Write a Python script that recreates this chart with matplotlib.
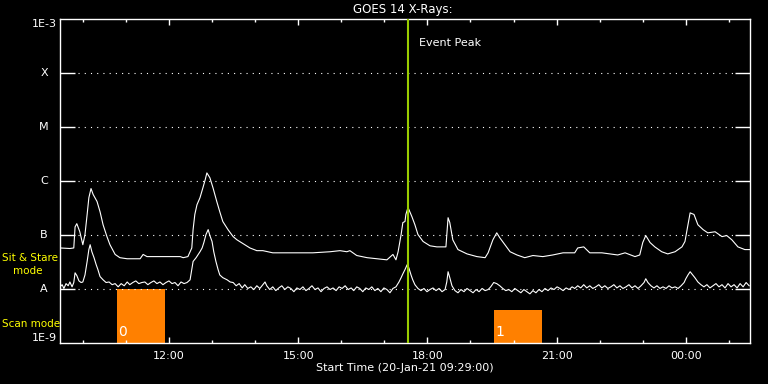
import matplotlib
matplotlib.use("Agg")
import matplotlib.pyplot as plt
import numpy as np
import matplotlib.transforms as mtransforms
from matplotlib.ticker import FixedLocator, MultipleLocator, FuncFormatter, NullLocator

plt.rcParams['font.family'] = ['DejaVu Sans']

# ---------------- data ----------------
# time: decimal hours from 00:00 on 20-Jan-21 (values above 24 fall on 21-Jan)
# flux: log10 of X-ray flux in W/m^2
long_t = [9.47, 9.70, 9.79, 9.82, 9.86, 9.93, 10.00, 10.05, 10.10, 10.14, 10.19, 10.24,
          10.33, 10.40, 10.47, 10.56, 10.63, 10.75, 10.86, 11.03, 11.21, 11.33, 11.40, 11.49,
          11.79, 12.02, 12.26, 12.33, 12.44, 12.53, 12.56, 12.60, 12.65, 12.72, 12.79, 12.84,
          12.88, 12.95, 13.02, 13.11, 13.18, 13.25, 13.37, 13.49, 13.58, 13.72, 13.88, 14.04,
          14.18, 14.41, 14.65, 14.97, 15.34, 15.74, 15.97, 16.13, 16.20, 16.36, 16.60, 16.83,
          17.06, 17.20, 17.27, 17.32, 17.39, 17.43, 17.48, 17.50, 17.55, 17.64, 17.71, 17.78,
          17.90, 18.06, 18.22, 18.43, 18.48, 18.52, 18.59, 18.71, 18.92, 19.15, 19.34, 19.41,
          19.52, 19.61, 19.68, 19.80, 19.92, 20.08, 20.26, 20.45, 20.68, 20.91, 21.15, 21.42,
          21.49, 21.63, 21.77, 22.05, 22.42, 22.59, 22.82, 22.93, 23.00, 23.07, 23.17, 23.28,
          23.44, 23.58, 23.75, 23.91, 23.98, 24.05, 24.10, 24.19, 24.28, 24.40, 24.51, 24.68,
          24.84, 24.95, 25.07, 25.21, 25.37, 25.49]
long_log = [-7.24, -7.25, -7.24, -6.85, -6.79, -6.94, -7.18, -6.99, -6.62, -6.31, -6.14, -6.25,
            -6.38, -6.57, -6.81, -7.03, -7.18, -7.36, -7.42, -7.44, -7.44, -7.44, -7.36, -7.40,
            -7.40, -7.40, -7.40, -7.42, -7.40, -7.24, -6.90, -6.62, -6.44, -6.31, -6.12, -5.98,
            -5.85, -5.94, -6.12, -6.38, -6.57, -6.75, -6.90, -7.03, -7.09, -7.16, -7.24, -7.29,
            -7.29, -7.33, -7.33, -7.33, -7.33, -7.31, -7.29, -7.31, -7.29, -7.38, -7.42, -7.44,
            -7.46, -7.36, -7.46, -7.31, -6.99, -6.77, -6.75, -6.62, -6.49, -6.66, -6.81, -6.99,
            -7.12, -7.20, -7.22, -7.22, -6.68, -6.77, -7.09, -7.27, -7.35, -7.40, -7.42, -7.33,
            -7.09, -6.96, -7.05, -7.18, -7.31, -7.37, -7.42, -7.38, -7.40, -7.37, -7.33, -7.33,
            -7.24, -7.22, -7.33, -7.33, -7.37, -7.33, -7.40, -7.37, -7.14, -7.01, -7.14, -7.22,
            -7.31, -7.35, -7.31, -7.22, -7.12, -6.81, -6.59, -6.62, -6.81, -6.90, -6.96, -6.94,
            -7.03, -7.01, -7.09, -7.22, -7.27, -7.27]

short_t = [9.47, 9.52, 9.56, 9.61, 9.66, 9.70, 9.75, 9.79, 9.82, 9.86, 9.91, 9.96,
           10.00, 10.05, 10.10, 10.14, 10.17, 10.21, 10.26, 10.31, 10.35, 10.40, 10.47, 10.54,
           10.61, 10.68, 10.75, 10.82, 10.89, 10.96, 11.03, 11.09, 11.16, 11.23, 11.30, 11.37,
           11.44, 11.51, 11.58, 11.65, 11.72, 11.79, 11.86, 11.93, 12.00, 12.07, 12.14, 12.21,
           12.28, 12.35, 12.42, 12.49, 12.56, 12.63, 12.67, 12.72, 12.77, 12.81, 12.86, 12.91,
           12.95, 13.00, 13.04, 13.09, 13.14, 13.18, 13.25, 13.35, 13.42, 13.49, 13.56, 13.63,
           13.70, 13.76, 13.83, 13.90, 13.97, 14.04, 14.11, 14.18, 14.23, 14.27, 14.34, 14.41,
           14.48, 14.55, 14.62, 14.69, 14.76, 14.83, 14.90, 14.97, 15.04, 15.11, 15.18, 15.25,
           15.32, 15.39, 15.46, 15.53, 15.60, 15.67, 15.74, 15.81, 15.88, 15.95, 16.02, 16.09,
           16.16, 16.23, 16.29, 16.36, 16.43, 16.50, 16.57, 16.64, 16.71, 16.78, 16.85, 16.92,
           16.99, 17.06, 17.13, 17.20, 17.27, 17.34, 17.39, 17.43, 17.48, 17.53, 17.57, 17.62,
           17.66, 17.71, 17.78, 17.85, 17.92, 17.99, 18.06, 18.13, 18.20, 18.27, 18.34, 18.41,
           18.45, 18.48, 18.52, 18.57, 18.64, 18.71, 18.78, 18.85, 18.92, 18.99, 19.06, 19.13,
           19.20, 19.27, 19.34, 19.41, 19.47, 19.54, 19.61, 19.68, 19.75, 19.82, 19.89, 19.96,
           20.03, 20.10, 20.17, 20.24, 20.31, 20.38, 20.45, 20.52, 20.59, 20.66, 20.73, 20.80,
           20.87, 20.94, 21.01, 21.08, 21.15, 21.22, 21.29, 21.36, 21.42, 21.49, 21.56, 21.63,
           21.70, 21.77, 21.84, 21.91, 21.98, 22.05, 22.12, 22.19, 22.26, 22.33, 22.40, 22.47,
           22.54, 22.61, 22.68, 22.75, 22.82, 22.89, 22.96, 23.03, 23.07, 23.12, 23.19, 23.26,
           23.33, 23.40, 23.47, 23.54, 23.61, 23.68, 23.75, 23.82, 23.89, 23.96, 24.00, 24.05,
           24.10, 24.14, 24.21, 24.28, 24.35, 24.42, 24.49, 24.56, 24.63, 24.70, 24.77, 24.84,
           24.91, 24.98, 25.05, 25.12, 25.19, 25.26, 25.33, 25.40, 25.47]
short_log = [-7.96, -7.92, -7.99, -7.90, -7.94, -7.87, -7.96, -7.88, -7.70, -7.75, -7.85, -7.88,
             -7.87, -7.74, -7.49, -7.27, -7.18, -7.31, -7.42, -7.55, -7.64, -7.77, -7.83, -7.88,
             -7.87, -7.92, -7.90, -7.96, -7.90, -7.94, -7.87, -7.92, -7.88, -7.85, -7.90, -7.88,
             -7.87, -7.92, -7.88, -7.85, -7.90, -7.87, -7.92, -7.88, -7.85, -7.90, -7.88, -7.94,
             -7.87, -7.90, -7.88, -7.83, -7.49, -7.42, -7.37, -7.31, -7.24, -7.14, -6.99, -6.90,
             -7.01, -7.12, -7.31, -7.49, -7.64, -7.74, -7.79, -7.83, -7.87, -7.88, -7.94, -7.90,
             -7.98, -7.92, -7.99, -7.96, -8.01, -7.94, -7.99, -7.92, -7.87, -7.94, -8.01, -7.96,
             -8.03, -7.98, -7.94, -8.01, -7.96, -7.99, -8.05, -7.98, -8.01, -7.96, -8.03, -7.99,
             -7.94, -8.01, -7.98, -8.05, -7.99, -7.96, -8.01, -7.98, -8.03, -7.96, -7.99, -7.94,
             -8.01, -7.98, -8.03, -7.96, -7.99, -8.05, -7.98, -8.01, -7.96, -8.03, -7.99, -8.05,
             -7.98, -8.01, -8.07, -7.99, -7.96, -7.87, -7.79, -7.72, -7.64, -7.55, -7.61, -7.74,
             -7.83, -7.92, -7.99, -8.03, -7.99, -8.05, -8.01, -7.98, -8.03, -7.99, -8.05, -8.01,
             -7.87, -7.68, -7.79, -7.94, -8.03, -8.07, -8.01, -8.05, -7.99, -8.03, -8.07, -8.01,
             -8.05, -7.99, -8.03, -8.01, -7.96, -7.88, -7.90, -7.94, -7.99, -8.03, -8.01, -8.05,
             -7.99, -8.03, -8.07, -8.01, -8.05, -8.09, -8.03, -8.07, -8.01, -8.05, -7.99, -8.03,
             -7.98, -8.01, -7.96, -7.99, -8.03, -7.98, -8.01, -7.96, -7.99, -7.94, -7.98, -7.92,
             -7.98, -7.94, -7.99, -7.96, -7.92, -7.98, -7.94, -7.99, -7.96, -7.92, -7.98, -7.94,
             -7.99, -7.96, -7.92, -7.98, -7.94, -7.99, -7.94, -7.88, -7.81, -7.88, -7.94, -7.98,
             -7.94, -7.99, -7.96, -7.99, -7.94, -7.98, -7.96, -7.99, -7.94, -7.88, -7.81, -7.74,
             -7.68, -7.72, -7.79, -7.87, -7.92, -7.96, -7.92, -7.98, -7.94, -7.90, -7.96, -7.92,
             -7.98, -7.90, -7.96, -7.92, -7.98, -7.90, -7.96, -7.88, -7.94]

time_range = [9.47, 25.49]
event_peak_t = 17.54
scan_start = [10.79, 19.54]
scan_end = [11.91, 20.65]
scan_top = [1.0e-8, 4.1e-9]
scan_label = ['0', '1']
class_level = [1e-8, 1e-7, 1e-6, 1e-5, 1e-4]
class_name = ['A', 'B', 'C', 'M', 'X']
major_hours = [12, 15, 18, 21, 24]

# ---------------- figure ----------------
W, H = 768, 384
fig = plt.figure(figsize=(W / 100, H / 100), dpi=100, facecolor='black')
ax = fig.add_axes([60 / W, 1 - 343 / H, 690 / W, 324 / H], facecolor='black')

ax.set_yscale('log')
ax.set_ylim(1e-9, 1e-3)
ax.set_xlim(*time_range)

# scan-mode blocks
for s, e, top, lab in zip(scan_start, scan_end, scan_top, scan_label):
    ax.fill_between([s, e], [1e-9, 1e-9], [top, top], color='#ff8000', lw=0, zorder=1)
    ax.text(s + 0.03, 1.6e-9, lab, color='white', fontsize=10, ha='left', va='center', zorder=4)

# grid lines at class levels
for lv in class_level:
    ax.axhline(lv, xmin=0.026, xmax=0.975, color='white', lw=0.8,
               linestyle=(0, (1, 4.6)), zorder=2)

# curves
ax.plot(long_t, 10 ** np.array(long_log), color='white', lw=0.8, zorder=3)
ax.plot(short_t, 10 ** np.array(short_log), color='white', lw=0.8, zorder=3)

# event peak
ax.axvline(event_peak_t, color='#99cc00', lw=1.5, zorder=5)
ax.text(event_peak_t + 0.26, 0.926, 'Event Peak', color='white', fontsize=8,
        ha='left', va='center', transform=mtransforms.blended_transform_factory(ax.transData, ax.transAxes))

# spines / ticks
for sp in ax.spines.values():
    sp.set_color('white')
    sp.set_linewidth(1.0)

ax.yaxis.set_major_locator(FixedLocator(class_level))
ax.yaxis.set_minor_locator(NullLocator())
ax.tick_params(axis='y', which='major', direction='in', length=10.5, width=1.0,
               color='white', left=True, right=True, labelleft=False, labelright=False)

ax.xaxis.set_major_locator(FixedLocator(major_hours))
ax.xaxis.set_minor_locator(MultipleLocator(1))
ax.xaxis.set_major_formatter(FuncFormatter(lambda v, p: f"{int(round(v)) % 24:02d}:00"))
ax.tick_params(axis='x', which='major', direction='in', length=4.6, width=1.0, color='white',
               top=True, bottom=True, labelcolor='white', labelsize=8, pad=6.0)
ax.tick_params(axis='x', which='minor', direction='in', length=2.4, width=1.0, color='white',
               top=True, bottom=True)

# y labels (class letters)
yt = mtransforms.blended_transform_factory(fig.transFigure, ax.transData)
for lv, nm in zip(class_level, class_name):
    ax.text(44 / W, lv, nm, color='white', fontsize=8, ha='center', va='center',
            transform=yt, clip_on=False)
ax.text(57 / W, 1e-3, '1E-3', color='white', fontsize=8, ha='right', va='top',
        transform=yt, clip_on=False)
ax.text(57 / W, 1e-9, '1E-9', color='white', fontsize=8, ha='right', va='bottom',
        transform=yt, clip_on=False)

# mode labels
fig.text(2 / W, 1 - 258 / H, 'Sit & Stare', color='yellow', fontsize=7.5, ha='left', va='center')
fig.text(13 / W, 1 - 271 / H, 'mode', color='yellow', fontsize=7.5, ha='left', va='center')
fig.text(2 / W, 1 - 324 / H, 'Scan mode', color='yellow', fontsize=7.5, ha='left', va='center')

# title and x label
fig.text(403 / W, 1 - 9.5 / H, 'GOES 14 X-Rays:', color='white', fontsize=8.5, ha='center', va='center')
fig.text(405 / W, 1 - 368 / H, 'Start Time (20-Jan-21 09:29:00)', color='white', fontsize=8,
         ha='center', va='center')

fig.savefig('out.png', dpi=100, facecolor='black')
